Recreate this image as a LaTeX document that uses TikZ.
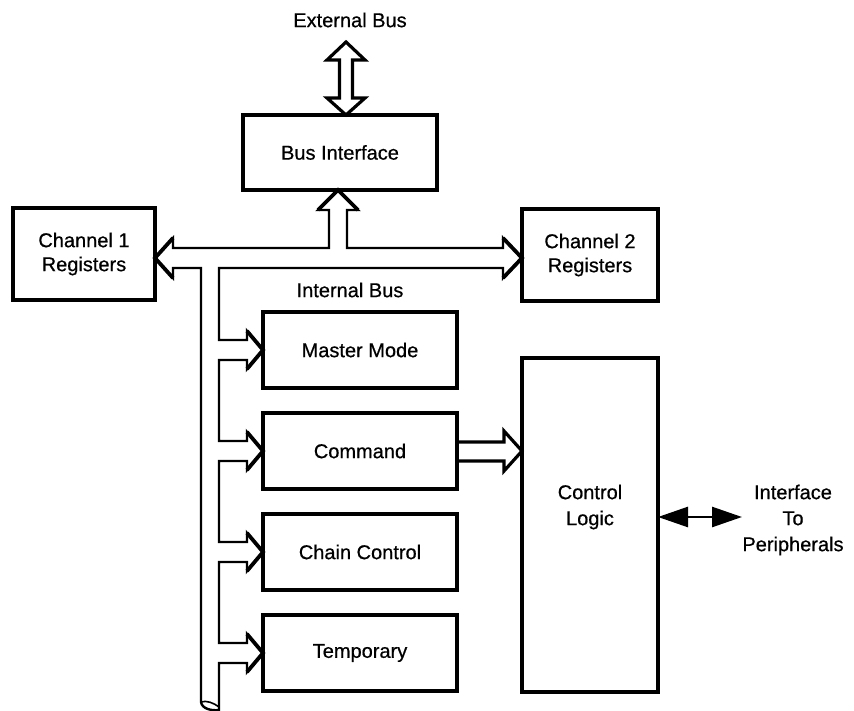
\documentclass[tikz,border=0pt]{standalone}
\usepackage{fontspec}
\setmainfont{Liberation Sans}[FakeBold=0.6]
\usetikzlibrary{calc,arrows.meta}
\begin{document}
\begin{tikzpicture}[x=1pt,y=-1pt,
  box/.style={draw,line width=4.6pt,inner sep=0pt,outer sep=0pt,align=center,font=\fontsize{20}{24}\selectfont},
  lbl/.style={inner sep=0pt,outer sep=0pt,align=center,font=\fontsize{20}{26}\selectfont},
  busline/.style={line width=2.4pt,line join=miter,line cap=butt},
  headline/.style={line width=3.8pt,line join=miter,line cap=butt},
  thinarrow/.style={line width=2.6pt,{Triangle[length=30pt,width=20pt]}-{Triangle[length=30pt,width=20pt]}}]
\useasboundingbox (0,0) rectangle (854,711);

% boxes
\node[box,minimum width=194pt,minimum height=75pt] (bi) at (340,152.5) {Bus Interface};
\node[box,minimum width=142pt,minimum height=92pt] (ch1) at (84,254) {Channel 1\\Registers};
\node[box,minimum width=136pt,minimum height=92pt] (ch2) at (590,255) {Channel 2\\Registers};
\foreach \n/\yy/\t in {mm/350/Master Mode,cmd/451/Command,cc/552/Chain Control,tmp/653/Temporary}
  \node[box,minimum width=194pt,minimum height=76pt] (\n) at (360,\yy) {\t};
\node[box,minimum width=136pt,minimum height=334pt] (cl) at (590,525) {};
\node[lbl] (cltext) at (590,507) {Control\\Logic};

% labels
\node[lbl] (ext) at (350,20) {External Bus};
\node[lbl] (ib) at (350,290) {Internal Bus};
\node[lbl] (per) at (793,520) {Interface\\To\\Peripherals};

% helper coordinates
\coordinate (by) at (0,258);
\coordinate (tL) at (ch1.east |- by);
\coordinate (tR) at (ch2.west |- by);
\coordinate (tU) at ($(bi.south)+(-2,0)$);
\coordinate (eB) at ($(bi.north)+(6,0)$);
\coordinate (eT) at ($(eB)+(0,-73)$);
\coordinate (pe) at (742,517);
\coordinate (ctip) at (cl.west |- cmd.east);

% internal bus outline
\draw[busline] (201,702) -- (201,268) -- ($(tL)+(18,10)$) -- ($(tL)+(18,20)$) -- (tL)
  -- ($(tL)+(18,-20)$) -- ($(tL)+(18,-10)$) -- ($(tU)+(-9,58)$) -- ($(tU)+(-9,20)$)
  -- ($(tU)+(-20,20)$) -- (tU) -- ($(tU)+(20,20)$) -- ($(tU)+(9,20)$) -- ($(tU)+(9,58)$)
  -- ($(tR)+(-19,-10)$) -- ($(tR)+(-19,-20)$) -- (tR) -- ($(tR)+(-19,20)$) -- ($(tR)+(-19,10)$)
  -- (219,268)
  \foreach \n in {mm,cmd,cc,tmp}{
    -- ($(\n.west)+(-44,-10)$) -- ($(\n.west)+(-16,-10)$) -- ($(\n.west)+(-16,-19)$) -- (\n.west)
    -- ($(\n.west)+(-16,19)$) -- ($(\n.west)+(-16,10)$) -- ($(\n.west)+(-44,10)$)
  }
  -- (219,711);
% bold heads
\draw[headline] ($(tL)+(18,20)$) -- (tL) -- ($(tL)+(18,-20)$);
\draw[headline] ($(tU)+(-20,20)$) -- (tU) -- ($(tU)+(20,20)$);
\draw[headline] ($(tR)+(-19,-20)$) -- (tR) -- ($(tR)+(-19,20)$);
\foreach \n in {mm,cmd,cc,tmp}
  \draw[headline] ($(\n.west)+(-16,-19)$) -- (\n.west) -- ($(\n.west)+(-16,19)$);
% bus cut end
\draw[busline] (201,702) .. controls (202,709) and (212,711) .. (219,710);
\draw[line width=1.6pt] (201,702) .. controls (206,700) and (214,703) .. (219,707);

% external bus double arrow
\draw[headline,line width=3.2pt] (eB) -- ($(eB)+(-19,-17)$) -- ($(eB)+(-6.5,-17)$) -- ($(eT)+(-6.5,18)$)
  -- ($(eT)+(-19,18)$) -- (eT) -- ($(eT)+(19,18)$) -- ($(eT)+(6.5,18)$) -- ($(eB)+(6.5,-17)$)
  -- ($(eB)+(19,-17)$) -- cycle;

% command to control logic
\draw[headline,line width=3.2pt] ($(cmd.east)+(0,-9)$) -- ($(ctip)+(-18,-9)$) -- ($(ctip)+(-18,-20)$) -- (ctip)
  -- ($(ctip)+(-18,20)$) -- ($(ctip)+(-18,10)$) -- ($(cmd.east)+(0,10)$);

% interface to peripherals
\draw[thinarrow] (cl.east |- pe) -- (pe);
\end{tikzpicture}
\end{document}
